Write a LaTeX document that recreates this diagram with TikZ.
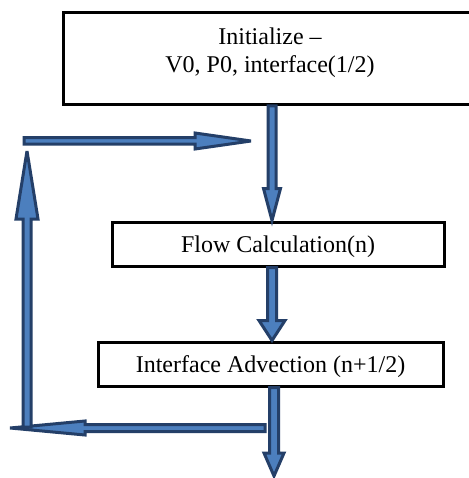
\documentclass[tikz,border=0pt]{standalone}
\usepackage{fontspec}
\setmainfont{Liberation Serif}
\usetikzlibrary{calc}
\definecolor{arrowfill}{RGB}{76,127,190}
\definecolor{arrowline}{RGB}{36,63,104}
\tikzset{
  stage/.style={draw=black, line width=3pt, fill=white, inner sep=0pt,
    text height=18pt, text depth=2pt, font=\fontsize{24}{28}\selectfont},
  stagetext/.style={align=center, inner sep=0pt, font=\fontsize{24}{28}\selectfont},
  blockarrow/.style={fill=arrowfill, draw=arrowline, line width=3pt,
    line join=miter, miter limit=4},
}
% Block arrow from #1 to #2: shaft width #3, head width #4, head length #5 (pt)
\newcommand\blockarrow[5]{%
  \path let \p1=(#1), \p2=(#2),
        \n1={atan2(\y2-\y1,\x2-\x1)},
        \n2={veclen(\x2-\x1,\y2-\y1)} in
    \pgfextra{\xdef\baAng{\n1}\xdef\baLen{\n2}\xdef\baX{\x1}\xdef\baY{\y1}};
  \begin{scope}[shift={(\baX,\baY)}, rotate=\baAng, x=1pt, y=1pt]
    \draw[blockarrow] (0,-#3/2) -- (\baLen-#5,-#3/2) -- (\baLen-#5,-#4/2)
      -- (\baLen,0) -- (\baLen-#5,#4/2) -- (\baLen-#5,#3/2) -- (0,#3/2) -- cycle;
  \end{scope}}
\begin{document}
\begin{tikzpicture}[x=1pt, y=-1pt]
\useasboundingbox (0,0) rectangle (468,478);
\fill[white] (0,0) rectangle (468,478);

% process boxes
\node[stage, minimum width=412pt, minimum height=92pt] (init) at (269,58.5) {};
\node[stagetext] (initText) at (270,53) {Initialize \textendash\\V0, P0, interface(1/2)};
\node[stage, minimum width=332pt, minimum height=44pt] (flow) at (278,244) {Flow Calculation(n)};
\node[stage, minimum width=345pt, minimum height=44pt] (advect) at (270.5,364) {Interface Advection (n+1/2)};

% connector end points
\coordinate (spine) at (272,0);
\coordinate (exitTip) at (274,476);
\coordinate (returnStart) at (265,428);
\coordinate (returnTip) at (10,428);
\coordinate (loopFoot) at (27,427);
\coordinate (loopTip) at (27,151);
\coordinate (loopCorner) at (24,141);
\coordinate (feedTip) at (251,141);

% main flow
\blockarrow{spine |- init.south}{spine |- flow.north}{8}{17}{32}
\blockarrow{spine |- flow.south}{spine |- advect.north}{9}{26}{20}
\blockarrow{advect.south -| exitTip}{exitTip}{9}{20}{23}

% time-step loop
\blockarrow{returnStart}{returnTip}{7}{14}{75}
\blockarrow{loopFoot}{loopTip}{8}{22}{68}
\blockarrow{loopCorner}{feedTip}{6.5}{16}{56}
\end{tikzpicture}
\end{document}
